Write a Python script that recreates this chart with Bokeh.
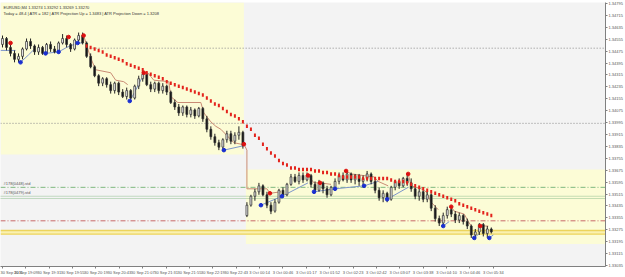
import math
from bokeh.plotting import figure
from bokeh.models import (FixedTicker, PrintfTickFormatter, Label, BoxAnnotation, Range1d, ColumnDataSource)
from bokeh.embed import file_html
from bokeh.resources import INLINE

nan = float("nan")

# ---------------- data ----------------
opens = [1.3452,1.3456,1.3450,1.3446,1.3442,1.3444,1.3449,1.3454,1.3451,1.3447,
         1.3450,1.3446,1.3452,1.3449,1.3447,1.3453,1.3456,1.3452,1.3449,1.3455,
         1.3458,1.3453,1.3444,1.3437,1.3431,1.3426,1.3429,1.3425,1.3421,1.3426,
         1.3420,1.3417,1.3421,1.3416,1.3424,1.3429,1.3432,1.3425,1.3422,1.3426,
         1.3421,1.3424,1.3420,1.3413,1.3410,1.3406,1.3410,1.3405,1.3408,1.3404,
         1.3409,1.3402,1.3395,1.3390,1.3386,1.3383,1.3388,1.3392,1.3387,1.3391,
         1.3393,1.3337,1.3344,1.3350,1.3353,1.3357,1.3351,1.3344,1.3340,1.3346,
         1.3354,1.3351,1.3358,1.3363,1.3360,1.3364,1.3361,1.3364,1.3358,1.3354,
         1.3359,1.3355,1.3351,1.3356,1.3360,1.3364,1.3361,1.3365,1.3361,1.3364,
         1.3360,1.3362,1.3365,1.3360,1.3354,1.3349,1.3352,1.3348,1.3356,1.3360,
         1.3357,1.3362,1.3359,1.3355,1.3350,1.3353,1.3348,1.3351,1.3342,1.3335,
         1.3332,1.3337,1.3341,1.3338,1.3334,1.3337,1.3333,1.3330,1.3324,1.3326,
         1.3331,1.3325,1.3328]
highs = [1.3458,1.3457,1.3452,1.3448,1.3446,1.3450,1.3456,1.3456,1.3452,1.3452,
         1.3451,1.3453,1.3454,1.3451,1.3454,1.3459,1.3458,1.3453,1.3456,1.3460,
         1.3460,1.3454,1.3446,1.3438,1.3432,1.3430,1.3430,1.3427,1.3427,1.3427,
         1.3422,1.3423,1.3422,1.3425,1.3431,1.3434,1.3433,1.3427,1.3427,1.3427,
         1.3426,1.3425,1.3421,1.3415,1.3412,1.3411,1.3411,1.3410,1.3409,1.3410,
         1.3410,1.3404,1.3397,1.3392,1.3388,1.3389,1.3394,1.3394,1.3393,1.3397,
         1.3394,1.3346,1.3351,1.3355,1.3359,1.3358,1.3353,1.3346,1.3348,1.3355,
         1.3356,1.3359,1.3365,1.3365,1.3366,1.3366,1.3366,1.3365,1.3360,1.3361,
         1.3360,1.3357,1.3357,1.3362,1.3366,1.3366,1.3367,1.3366,1.3365,1.3365,
         1.3364,1.3367,1.3366,1.3361,1.3356,1.3354,1.3353,1.3357,1.3361,1.3362,
         1.3363,1.3365,1.3362,1.3356,1.3355,1.3354,1.3353,1.3352,1.3344,1.3337,
         1.3339,1.3343,1.3343,1.3340,1.3339,1.3338,1.3335,1.3331,1.3328,1.3332,
         1.3332,1.3330,1.3329]
lows = [1.3450,1.3448,1.3444,1.3440,1.3440,1.3442,1.3448,1.3449,1.3445,1.3445,
        1.3445,1.3445,1.3447,1.3446,1.3446,1.3452,1.3450,1.3447,1.3448,1.3454,
        1.3452,1.3443,1.3436,1.3430,1.3424,1.3424,1.3423,1.3419,1.3419,1.3418,
        1.3416,1.3415,1.3414,1.3415,1.3422,1.3427,1.3424,1.3420,1.3420,1.3419,
        1.3419,1.3418,1.3412,1.3408,1.3404,1.3404,1.3403,1.3403,1.3402,1.3403,
        1.3400,1.3393,1.3388,1.3384,1.3381,1.3381,1.3386,1.3385,1.3385,1.3388,
        1.3382,1.3336,1.3343,1.3347,1.3351,1.3350,1.3342,1.3338,1.3339,1.3345,
        1.3349,1.3350,1.3357,1.3359,1.3358,1.3359,1.3360,1.3356,1.3352,1.3353,
        1.3352,1.3349,1.3350,1.3354,1.3358,1.3360,1.3359,1.3359,1.3358,1.3357,
        1.3356,1.3360,1.3358,1.3352,1.3347,1.3346,1.3346,1.3347,1.3354,1.3355,
        1.3356,1.3357,1.3353,1.3348,1.3347,1.3346,1.3346,1.3340,1.3333,1.3330,
        1.3330,1.3335,1.3336,1.3332,1.3332,1.3331,1.3328,1.3322,1.3321,1.3324,
        1.3323,1.3322,1.3325]
closes = [1.3456,1.3450,1.3446,1.3442,1.3444,1.3449,1.3454,1.3451,1.3447,1.3450,
          1.3446,1.3452,1.3449,1.3447,1.3453,1.3456,1.3452,1.3449,1.3455,1.3458,
          1.3453,1.3444,1.3437,1.3431,1.3426,1.3429,1.3425,1.3421,1.3426,1.3420,
          1.3417,1.3421,1.3416,1.3424,1.3429,1.3432,1.3425,1.3422,1.3426,1.3421,
          1.3424,1.3420,1.3413,1.3410,1.3406,1.3410,1.3405,1.3408,1.3404,1.3409,
          1.3402,1.3395,1.3390,1.3386,1.3383,1.3388,1.3392,1.3387,1.3391,1.3393,
          1.3384,1.3344,1.3350,1.3353,1.3357,1.3351,1.3344,1.3340,1.3346,1.3354,
          1.3351,1.3358,1.3363,1.3360,1.3364,1.3361,1.3364,1.3358,1.3354,1.3359,
          1.3355,1.3351,1.3356,1.3360,1.3364,1.3361,1.3365,1.3361,1.3364,1.3360,
          1.3362,1.3365,1.3360,1.3354,1.3349,1.3352,1.3348,1.3356,1.3360,1.3357,
          1.3362,1.3359,1.3355,1.3350,1.3353,1.3348,1.3351,1.3342,1.3335,1.3332,
          1.3337,1.3341,1.3338,1.3334,1.3337,1.3333,1.3330,1.3324,1.3326,1.3331,
          1.3325,1.3328,1.3326]
bars = list(range(len(closes)))

atr_first_bar = 21
atr_projection = [1.3451,1.3450,1.3449,1.3448,1.3447,1.3445,1.3444,1.3443,1.3442,1.3441,
                  1.3439,1.3438,1.3437,1.3436,1.3435,1.3433,1.3432,1.3431,1.3430,1.3429,
                  1.3427,1.3426,1.3425,1.3424,1.3423,1.3422,1.3421,1.3420,1.3419,
                  1.3418,1.3416,1.3414,1.3412,1.3411,1.3409,1.3407,1.3405,1.3404,1.3402,1.3400,
                  1.3397,1.3395,1.3391,1.3389,1.3385,1.3382,1.3379,1.3377,1.3374,1.3372,1.3371,1.3369,
                  1.3369,1.3368,1.3368,1.3368,1.3368,1.3367,1.3367,1.3366,1.3366,1.3365,
                  1.3365,1.3364,1.3363,1.3363,1.3363,1.3363,1.3363,1.3362,1.3362,1.3362,
                  1.3362,1.3362,1.3362,1.3362,1.3361,1.3360,1.3360,1.3360,1.3359,1.3358,
                  1.3357,1.3356,1.3355,1.3354,1.3353,1.3352,1.3351,1.3350,1.3349,1.3348,
                  1.3347,1.3345,1.3344,1.3343,1.3342,1.3341,1.3340,1.3339,1.3338,1.3337]
atr_bars = list(range(atr_first_bar, atr_first_bar + len(atr_projection)))

red_dot_bar = [2, 16.5, 20.25, 35.25, 60.25, 66.75, 76.25, 79.25, 85.75, 101.25, 112, 119.25]
red_dot_price = [1.3453, 1.3457, 1.3458, 1.3433, 1.3385, 1.3352, 1.3364, 1.3359, 1.3367, 1.3365, 1.3343, 1.3330]
blue_dot_bar = [4.5, 10.75, 14, 18.75, 31.75, 55.25, 64.5, 69.75, 77.75, 83, 90.25, 96, 110, 117.75, 121.5]
blue_dot_price = [1.3440, 1.3446, 1.3447, 1.3453, 1.3414, 1.3381, 1.3344, 1.3350, 1.3353, 1.3355, 1.3357, 1.3348, 1.3330, 1.3322, 1.3322]

stop_down_bar = [20.25, 22, 23.25, 27, 28.25, 30.25, 31.25, nan,
                 35.25, 36.25, 37.75, 41.5, 42, 43.75, 49.5, 50.25, 52, 53.25, 54.5, 57.75, 59.5, 60.25, 61, 61, 66, 66.75, 69.5, nan,
                 76.25, 77.75, 79.25, 82, nan,
                 85.75, 87, 92.75, 93.75, 96.25, nan,
                 101.25, 102, 104.5, 105.75, 107, 108.75, nan,
                 112, 112.75, 115.25, 116.25, 117, nan,
                 119.25, 121.25]
stop_down_price = [1.3458, 1.3443, 1.3435, 1.3433, 1.3428, 1.3427, 1.3425, nan,
                   1.3433, 1.3433, 1.3428, 1.3427, 1.3417, 1.3413, 1.3413, 1.3406, 1.3400, 1.3397, 1.3395, 1.3386, 1.3385, 1.3385, 1.3381, 1.3355, 1.3355, 1.3352, 1.3353, nan,
                   1.3364, 1.3359, 1.3359, 1.3358, nan,
                   1.3367, 1.3365, 1.3363, 1.3360, 1.3357, nan,
                   1.3365, 1.3357, 1.3355, 1.3353, 1.3346, 1.3341, nan,
                   1.3343, 1.3340, 1.3338, 1.3333, 1.3330, nan,
                   1.3330, 1.3330]
stop_up_bar = [-0.5, 3.25, nan, 4.5, 6.5, 8, nan, 10.75, 14, 16, 18.75, 20, nan,
               31.75, 33, 34.5, 35, nan, 55.25, 60.25, nan, 64.5, 69.75, 76.25, nan,
               77.75, 83, 90.25, 93.75, nan, 96, 101.25, nan, 110, 111.5, nan,
               117.75, 119, nan, 121.5, 122.5]
stop_up_price = [1.3448, 1.3448, nan, 1.3440, 1.3445, 1.3449, nan, 1.3446, 1.3447, 1.3450, 1.3453, 1.3453, nan,
                 1.3414, 1.3420, 1.3428, 1.3430, nan, 1.3381, 1.3384, nan, 1.3344, 1.3350, 1.3359, nan,
                 1.3353, 1.3355, 1.3357, 1.3360, nan, 1.3348, 1.3356, nan, 1.3330, 1.3333, nan,
                 1.3322, 1.3325, nan, 1.3322, 1.3324]

# horizontal levels
level_gray_prices = [1.34495, 1.33990]
level_gray_start = [21, -0.5]
level_std_prices = [1.3356, 1.3350]
level_std_names = ["#178(0448).std", "#178(0479).std"]
level_green2_price = 1.33485
level_red_price = 1.33335
band_prices = [1.33245, 1.33270]

# session boxes
prev_day_box = dict(left=-0.5, right=60.25, bottom=1.3378)
today_box = dict(left=60.75, bottom=1.3318, top=1.3368)

y_ticks = [1.34795, 1.34715, 1.34635, 1.34555, 1.34475, 1.34395, 1.34315, 1.34235,
           1.34155, 1.34075, 1.33995, 1.33915, 1.33835, 1.33755, 1.33675, 1.33595,
           1.33515, 1.33435, 1.33355, 1.33275, 1.33195, 1.33115, 1.33035]
x_tick_bars = [0, 5.83, 11.67, 17.5, 23.33, 29.17, 35, 40.83, 46.67, 52.5, 58.33,
               64.17, 70, 75.83, 81.67, 87.5, 93.33, 99.17, 105, 110.83, 116.67, 122.5]
x_tick_labels = ["30 Sep 2011", "30 Sep 19:09", "30 Sep 19:31", "30 Sep 19:55", "30 Sep 20:19",
                 "30 Sep 20:43", "30 Sep 21:07", "30 Sep 21:31", "30 Sep 21:55", "30 Sep 22:19",
                 "30 Sep 22:43", "3 Oct 00:14", "3 Oct 00:46", "3 Oct 01:17", "3 Oct 01:52",
                 "3 Oct 02:23", "3 Oct 02:42", "3 Oct 03:07", "3 Oct 03:38", "3 Oct 04:10",
                 "3 Oct 04:46", "3 Oct 05:34"]

header_line1 = "EURUSD,M4  1.33274 1.33292 1.33269 1.33270"
header_line2 = "Today = 48.4   |   ATR = 182   |   ATR Projection Up = 1.3483   |   ATR Projection Down = 1.3208"

# ---------------- figure ----------------
X0, X1 = -0.5, 150.5
Y0, Y1 = 1.33028, 1.34802
FONT = "Liberation Sans"

p = figure(width=625, height=277, output_backend="svg", toolbar_location=None,
           x_range=Range1d(X0, X1), y_range=Range1d(Y0, Y1), y_axis_location="right",
           min_border_left=0, min_border_top=2, min_border_right=0, min_border_bottom=0)
p.background_fill_color = "#f3f3f3"
p.border_fill_color = "#ffffff"
p.outline_line_color = None
p.grid.visible = False

p.add_layout(BoxAnnotation(left=prev_day_box["left"], right=prev_day_box["right"],
                           bottom=prev_day_box["bottom"], fill_color="#fcfcd6",
                           fill_alpha=1, line_color=None, level="underlay"))
p.add_layout(BoxAnnotation(left=today_box["left"], bottom=today_box["bottom"], top=today_box["top"],
                           fill_color="#fcfcd6", fill_alpha=1, line_color=None, level="underlay"))
p.add_layout(BoxAnnotation(bottom=band_prices[0], top=band_prices[1], fill_color="#faf1b0",
                           fill_alpha=1, line_color=None, level="underlay"))

# levels
p.segment(x0=level_gray_start, y0=level_gray_prices, x1=[X1] * 2, y1=level_gray_prices,
          line_color="#8a8a8a", line_dash="1 2", line_width=1)
p.segment(x0=[X0], y0=[level_std_prices[0]], x1=[X1], y1=[level_std_prices[0]],
          line_color="#7fb87f", line_dash="5 2 1 2", line_width=1)
p.segment(x0=[X0, X0], y0=[level_std_prices[1], level_green2_price], x1=[X1, X1],
          y1=[level_std_prices[1], level_green2_price],
          line_color="#8fbf8f", line_dash="1 1", line_width=1)
p.segment(x0=[X0], y0=[level_red_price], x1=[X1], y1=[level_red_price],
          line_color="#c86a6a", line_dash="5 2 1 2", line_width=1)
p.segment(x0=[X0, X0], y0=band_prices, x1=[X1, X1], y1=band_prices,
          line_color="#ecd45c", line_width=1.3)

# stop lines
p.line(stop_down_bar, stop_down_price, line_color="#c98b74", line_width=1)
p.line(stop_up_bar, stop_up_price, line_color="#7d95c9", line_width=1)

# candles
up = [c >= o for o, c in zip(opens, closes)]
src = ColumnDataSource(dict(
    x=bars, o=opens, h=highs, l=lows, c=closes,
    top=[max(o, c) for o, c in zip(opens, closes)],
    bot=[min(o, c) for o, c in zip(opens, closes)],
    fill=["#ffffff" if u else "#111111" for u in up]))
p.segment(x0="x", y0="h", x1="x", y1="l", source=src, line_color="#222222", line_width=1)
p.vbar(x="x", width=0.45, top="top", bottom="bot", source=src, fill_color="fill",
       line_color="#333333", line_width=0.8)

# ATR projection (red blocks)
p.rect(x=atr_bars, y=atr_projection, width=0.5, height=3.5, height_units="screen",
       fill_color="#e3231c", line_color=None)

# pivots
p.scatter(red_dot_bar, red_dot_price, size=3.6, fill_color="#dd1111", line_color="#dd1111")
p.scatter(blue_dot_bar, blue_dot_price, size=3.6, fill_color="#1a2fd0", line_color="#1a2fd0")

# header texts
p.add_layout(Label(x=X0, y=Y1, x_offset=3, y_offset=-2, text=header_line1, text_font=FONT,
                   text_font_size="4px", text_color="#333333", text_baseline="top"))
p.add_layout(Label(x=X0, y=Y1, x_offset=3, y_offset=-8, text=header_line2, text_font=FONT,
                   text_font_size="4px", text_color="#333333", text_baseline="top"))
for pr, nm in zip(level_std_prices, level_std_names):
    p.add_layout(Label(x=X0, y=pr, x_offset=3, y_offset=1, text=nm, text_font=FONT,
                       text_font_size="4px", text_color="#555555", text_baseline="bottom"))

# axes
p.yaxis.ticker = FixedTicker(ticks=y_ticks)
p.yaxis.formatter = PrintfTickFormatter(format="%.5f")
p.xaxis.ticker = FixedTicker(ticks=x_tick_bars)
p.xaxis.major_label_overrides = {t: s for t, s in zip(x_tick_bars, x_tick_labels)}
for ax in (p.xaxis[0], p.yaxis[0]):
    ax.axis_line_color = "#808080"
    ax.major_tick_line_color = "#808080"
    ax.major_tick_in = 0
    ax.major_tick_out = 2
    ax.minor_tick_line_color = None
    ax.major_label_text_font = FONT
    ax.major_label_text_font_size = "4px"
    ax.major_label_text_color = "#555555"
    ax.major_label_standoff = 1
p.xaxis.major_label_text_align = "left"

open("out.html", "w").write(file_html(p, INLINE))
